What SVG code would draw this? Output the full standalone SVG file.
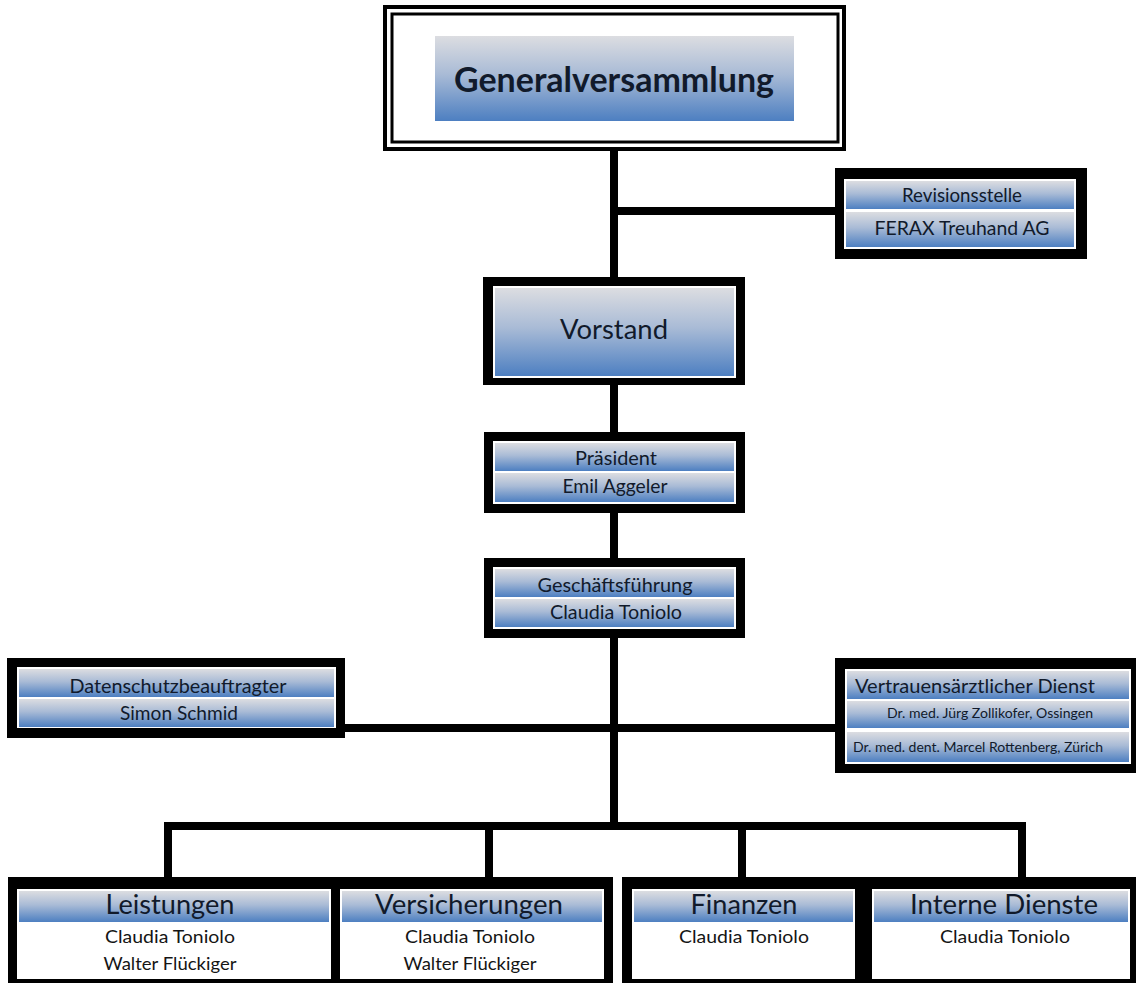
<svg xmlns="http://www.w3.org/2000/svg" width="1136" height="983" viewBox="0 0 1136 983">
<defs>
<linearGradient id="g" x1="0" y1="0" x2="0" y2="1">
<stop offset="0" stop-color="#dcdde1"/>
<stop offset="0.45" stop-color="#a9bbd6"/>
<stop offset="1" stop-color="#4d7fc1"/>
</linearGradient>
</defs>
<style>
text{font-family:Lato,"Open Sans","Liberation Sans",sans-serif;fill:#111a2b;text-anchor:middle}
.blk{fill:#000}
.wht{fill:#fff}
.bar{fill:url(#g)}
.con{stroke:#000;stroke-width:8;fill:none}
.nm{fill:#151515}
</style>
<g id="connectors">
<line class="con" x1="614" y1="150" x2="614" y2="278"/>
<line class="con" x1="614" y1="211" x2="836" y2="211"/>
<line class="con" x1="614" y1="384" x2="614" y2="433"/>
<line class="con" x1="614" y1="512" x2="614" y2="559"/>
<line class="con" x1="614" y1="637" x2="614" y2="830"/>
<line class="con" x1="344" y1="728" x2="836" y2="728"/>
<line class="con" x1="164" y1="826" x2="1026" y2="826"/>
<line class="con" x1="168" y1="822" x2="168" y2="878"/>
<line class="con" x1="489" y1="822" x2="489" y2="878"/>
<line class="con" x1="742" y1="822" x2="742" y2="878"/>
<line class="con" x1="1022" y1="822" x2="1022" y2="878"/>
</g>
<g id="generalversammlung">
<rect x="385" y="7" width="459" height="142" fill="#fff" stroke="#000" stroke-width="4"/>
<rect x="392" y="14" width="446" height="128" fill="none" stroke="#000" stroke-width="3"/>
<rect class="bar" x="435" y="36" width="359" height="85"/>
<text x="614" y="92" font-size="34" font-weight="bold" textLength="320" lengthAdjust="spacingAndGlyphs">Generalversammlung</text>
</g>
<g id="revisionsstelle">
<rect class="blk" x="835" y="168" width="252" height="91"/>
<rect class="wht" x="844" y="179" width="232" height="70"/>
<rect class="bar" x="846" y="181" width="228" height="28"/>
<rect class="bar" x="846" y="212" width="228" height="35"/>
<text x="962" y="202" font-size="19" textLength="120" lengthAdjust="spacingAndGlyphs">Revisionsstelle</text>
<text x="962" y="235" font-size="19" textLength="175" lengthAdjust="spacingAndGlyphs">FERAX Treuhand AG</text>
</g>
<g id="vorstand">
<rect class="blk" x="483" y="277" width="262" height="108"/>
<rect class="wht" x="493" y="286" width="243" height="92"/>
<rect class="bar" x="495" y="288" width="239" height="88"/>
<text x="614" y="339" font-size="27" textLength="108" lengthAdjust="spacingAndGlyphs">Vorstand</text>
</g>
<g id="praesident">
<rect class="blk" x="484" y="432" width="261" height="81"/>
<rect class="wht" x="493" y="441" width="243" height="63"/>
<rect class="bar" x="495" y="443" width="239" height="28"/>
<rect class="bar" x="495" y="473" width="239" height="29"/>
<text x="616" y="465" font-size="19" textLength="82" lengthAdjust="spacingAndGlyphs">Präsident</text>
<text x="615" y="493" font-size="19" textLength="105" lengthAdjust="spacingAndGlyphs">Emil Aggeler</text>
</g>
<g id="geschaeftsfuehrung">
<rect class="blk" x="484" y="558" width="261" height="80"/>
<rect class="wht" x="493" y="567" width="243" height="62"/>
<rect class="bar" x="495" y="569" width="239" height="28"/>
<rect class="bar" x="495" y="599" width="239" height="28"/>
<text x="615" y="592" font-size="19" textLength="155" lengthAdjust="spacingAndGlyphs">Geschäftsführung</text>
<text x="616" y="619" font-size="19" textLength="132" lengthAdjust="spacingAndGlyphs">Claudia Toniolo</text>
</g>
<g id="datenschutz">
<rect class="blk" x="7" y="658" width="338" height="80"/>
<rect class="wht" x="17" y="667" width="319" height="61"/>
<rect class="bar" x="19" y="669" width="315" height="28"/>
<rect class="bar" x="19" y="699" width="315" height="28"/>
<text x="178" y="693" font-size="19" textLength="217" lengthAdjust="spacingAndGlyphs">Datenschutzbeauftragter</text>
<text x="179" y="720" font-size="19" textLength="118" lengthAdjust="spacingAndGlyphs">Simon Schmid</text>
</g>
<g id="vertrauensarzt">
<rect class="blk" x="835" y="658" width="301" height="115"/>
<rect class="wht" x="845" y="669" width="286" height="95"/>
<rect class="bar" x="847" y="671" width="282" height="28"/>
<rect class="bar" x="847" y="701" width="282" height="27"/>
<rect class="bar" x="847" y="732" width="282" height="30"/>
<text x="975" y="693" font-size="20" textLength="240" lengthAdjust="spacingAndGlyphs">Vertrauensärztlicher Dienst</text>
<text x="990" y="718" font-size="13" textLength="206" lengthAdjust="spacingAndGlyphs">Dr. med. Jürg Zollikofer, Ossingen</text>
<text x="978" y="752" font-size="13" textLength="250" lengthAdjust="spacingAndGlyphs">Dr. med. dent. Marcel Rottenberg, Zürich</text>
</g>
<rect class="blk" x="8" y="877" width="605" height="106"/>
<rect class="blk" x="622" y="877" width="514" height="106"/>
<g id="leistungen">
<rect class="wht" x="17" y="889" width="314" height="90"/>
<rect class="bar" x="19" y="891" width="310" height="31"/>
<text x="170" y="914" font-size="26" textLength="129" lengthAdjust="spacingAndGlyphs">Leistungen</text>
<text class="nm" x="170" y="943" font-size="18" textLength="130" lengthAdjust="spacingAndGlyphs">Claudia Toniolo</text>
<text class="nm" x="170" y="970" font-size="18" textLength="133" lengthAdjust="spacingAndGlyphs">Walter Flückiger</text>
</g>
<g id="versicherungen">
<rect class="wht" x="340" y="889" width="264" height="90"/>
<rect class="bar" x="342" y="891" width="260" height="31"/>
<text x="469" y="914" font-size="26" textLength="188" lengthAdjust="spacingAndGlyphs">Versicherungen</text>
<text class="nm" x="470" y="943" font-size="18" textLength="130" lengthAdjust="spacingAndGlyphs">Claudia Toniolo</text>
<text class="nm" x="470" y="970" font-size="18" textLength="133" lengthAdjust="spacingAndGlyphs">Walter Flückiger</text>
</g>
<g id="finanzen">
<rect class="wht" x="632" y="889" width="223" height="90"/>
<rect class="bar" x="634" y="891" width="219" height="31"/>
<text x="744" y="914" font-size="26" textLength="107" lengthAdjust="spacingAndGlyphs">Finanzen</text>
<text class="nm" x="744" y="943" font-size="18" textLength="130" lengthAdjust="spacingAndGlyphs">Claudia Toniolo</text>
</g>
<g id="interne-dienste">
<rect class="wht" x="872" y="889" width="258" height="90"/>
<rect class="bar" x="874" y="891" width="254" height="31"/>
<text x="1004" y="914" font-size="26" textLength="188" lengthAdjust="spacingAndGlyphs">Interne Dienste</text>
<text class="nm" x="1005" y="943" font-size="18" textLength="130" lengthAdjust="spacingAndGlyphs">Claudia Toniolo</text>
</g>
</svg>
